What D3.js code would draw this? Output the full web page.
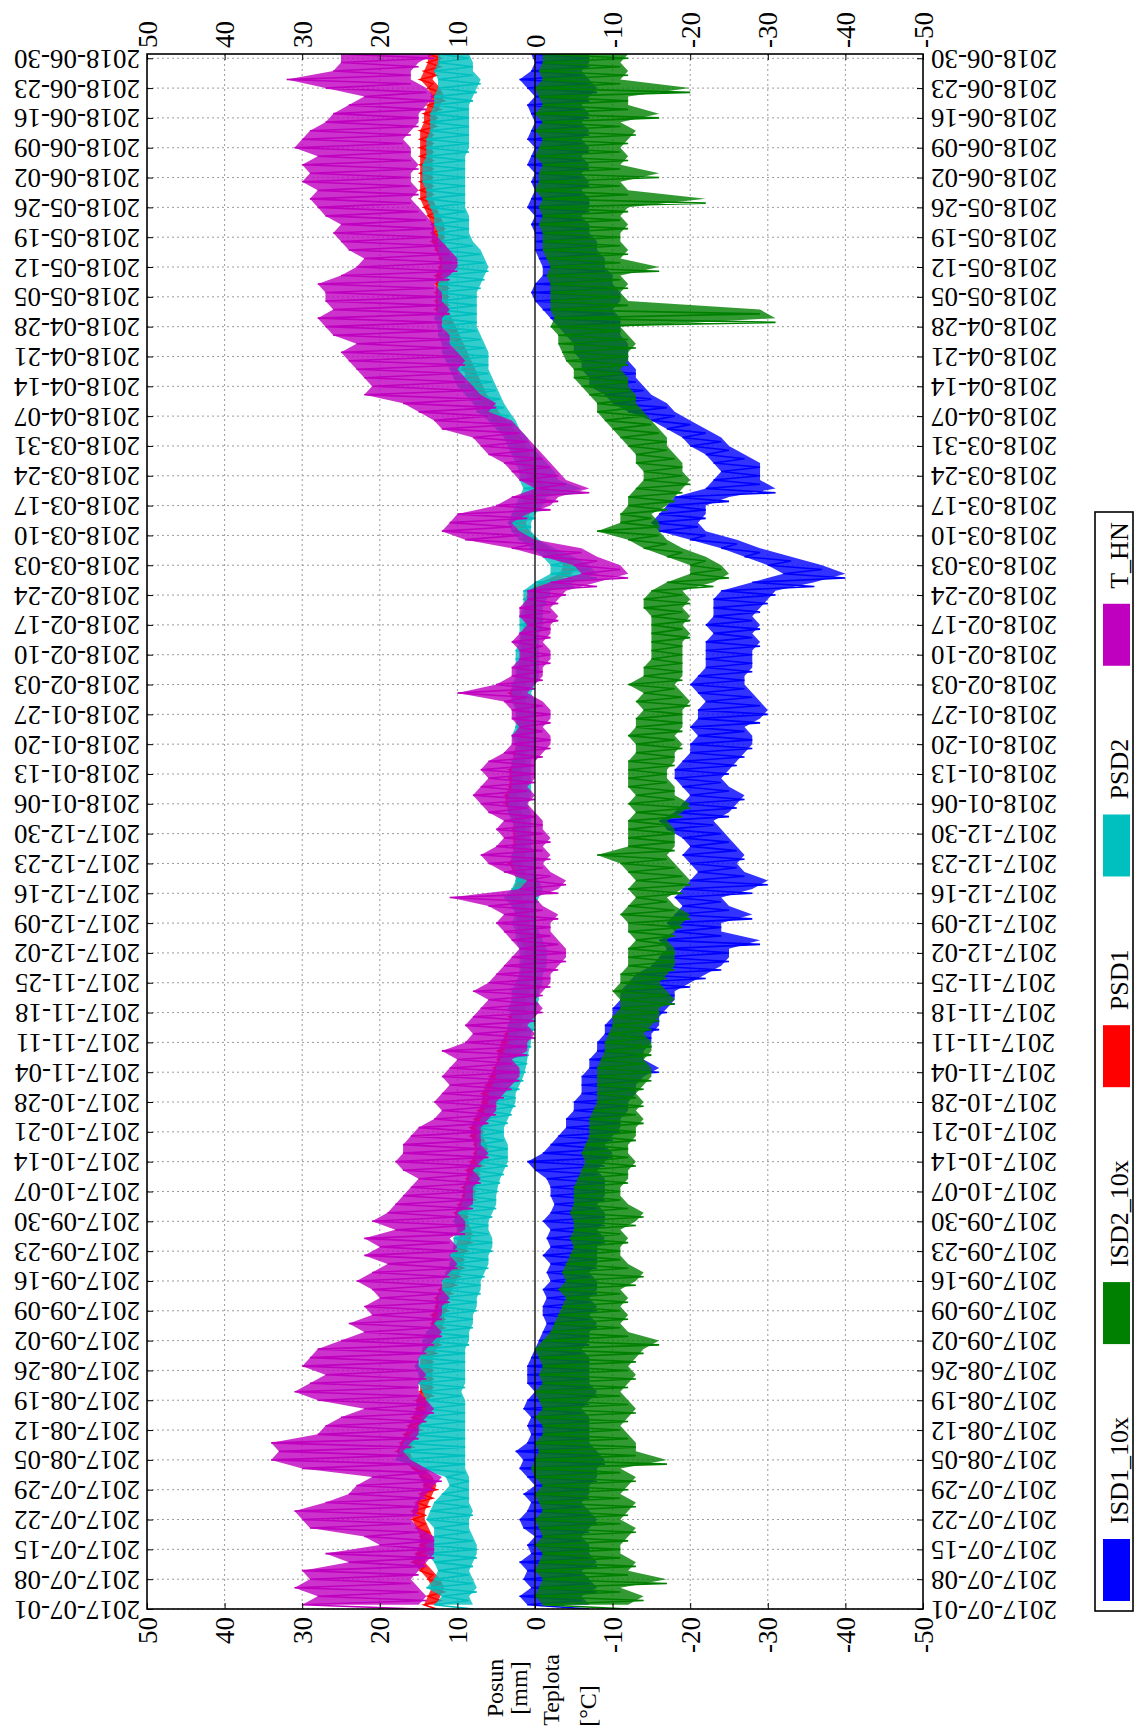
<!DOCTYPE html>
<html>
<head>
<meta charset="utf-8">
<script src="https://cdn.jsdelivr.net/npm/d3@7"></script>
<style>
  html, body { margin: 0; padding: 0; background: #fff; }
  svg { display: block; }
  text { font-family: "Liberation Serif", "Times New Roman", serif; fill: #000; }
</style>
</head>
<body>
<svg id="chart" width="1134" height="1729"></svg>
<script>
// ---- data -------------------------------------------------------------
// Two-day buckets starting 2017-07-01: for every bucket the lower and the
// upper reading of each record (displacements x10 / mm, temperature in °C).
const startDate = "2017-07-01";
const endDate = "2018-07-01";
const valueTicks = [50, 40, 30, 20, 10, 0, -10, -20, -30, -40, -50];
const seriesNames = ["ISD1_10x", "ISD2_10x", "PSD1", "PSD2", "T_HN"];
const seriesColors = ["#0000ff", "#008000", "#ff0000", "#00bfbf", "#bf00bf"];
const titleLines = ["Posun", "[mm]", "Teplota", "[°C]"];

const isd1High = [
  1, 2, 0.5, 1.5, 1, 2, 0.5,   1, 0, 1.5, 2, 1, 0.5, 1.5,   0, 1, 2, 1.5, 2.5, 1, 0.5,
  1, 0.5, 1.5, 1, 0, 1, 1,   1, 0.5, 0, -0.5, -1, -1.5, -1,   -1, -1.5, -1, -2, -1.5, -2, -1,
  -2, -1.5, -2, -1, -2, -2.5, -2,   -2, -1.5, 0, 1, -1, -2, -3,   -4, -4, -5, -5, -6, -6, -6,
  -7, -7, -8, -8, -9, -9, -10,   -10, -11, -11, -12, -13, -15, -16,   -17, -16, -18, -17, -18, -19, -18,
  -19, -20, -21, -20, -19, -20, -19,   -17, -16, -18, -19, -20, -19, -18,   -18, -19, -20, -20, -21, -20, -21,
  -21, -22, -21, -20, -21, -22, -22,   -22, -22, -23, -22, -23, -23, -23,   -24, -28, -32, -30, -27, -24, -20,
  -16, -15, -16, -17, -18, -22, -23,   -24, -23, -22, -20, -19, -17, -15,   -12, -10, -9, -7, -7, -6, -6,
  -5, -5, -4, -3, -2, -1, 0,   0.5, 0, -1, -1, -0.5, 0, 0,   0, 0.5, 0, 1, 0.5, 0, 0.5,
  0, 1, 0.5, 0, 1, 0.5, 0,   0.5, 1, 0, 1, 2, 0.5, 0,   0.5
];
const isd1Low = [
  -7, -6, -8, -7, -6, -8, -7,   -7, -6, -7, -8, -7, -6, -7,   -7, -8, -8, -9, -8, -7, -7,
  -7, -7, -6, -7, -8, -7, -7,   -7, -7, -6, -7, -7, -8, -7,   -8, -7, -8, -8, -7, -8, -8,
  -8, -9, -8, -9, -9, -8, -9,   -9, -9, -8, -9, -10, -9, -10,   -11, -11, -12, -12, -13, -13, -14,
  -16, -14, -14, -15, -15, -16, -16,   -17, -18, -18, -20, -22, -24, -25,   -25, -29, -24, -24, -28, -25, -24,
  -28, -30, -27, -26, -27, -26, -25,   -24, -23, -25, -26, -27, -25, -24,   -25, -26, -27, -28, -28, -27, -29,
  -30, -29, -28, -27, -27, -28, -28,   -28, -29, -28, -29, -28, -29, -30,   -31, -36, -40, -37, -33, -29, -26,
  -22, -21, -22, -22, -25, -31, -29,   -29, -29, -27, -25, -24, -22, -20,   -18, -17, -15, -14, -13, -13, -12,
  -12, -12, -11, -11, -11, -10, -11,   -11, -10, -10, -9, -9, -8, -8,   -7, -7, -6, -7, -7, -6, -7,
  -6, -7, -6, -7, -6, -7, -6,   -7, -6, -7, -8, -7, -6, -7,   -7
];

const isd2High = [
  -1, 0, -0.5, -1, 0, -0.5, -1,   0, -1, -0.5, 0, -1, -0.5, 0,   -1, 0, 0.5, 0, -0.5, 0, -1,
  -1, 0, -1, -0.5, 0, -1, -0.5,   -1, -0.5, 0, -1, -2, -2.5, -3,   -3.5, -4, -3, -4, -3.5, -4, -4.5,
  -5, -4.5, -5, -5, -4.5, -5, -5,   -5, -5.5, -6, -6.5, -6, -6.5, -7,   -7, -7, -7.5, -8, -8, -8, -8,
  -8, -8.5, -9, -9, -9.5, -10, -10,   -11, -11, -10, -11, -11, -12, -12,   -12, -13, -12, -12, -11, -12, -13,
  -12, -13, -12, -11, -8, -12, -12,   -12, -12, -13, -12, -13, -12, -12,   -12, -12, -13, -13, -12, -13, -13,
  -14, -13, -14, -12, -14, -14, -15,   -15, -15, -15, -15, -15, -14, -14,   -15, -17, -20, -20, -17, -14, -12,
  -8, -11, -11, -12, -12, -13, -14,   -14, -13, -13, -12, -11, -10, -9,   -8, -8, -7, -6, -5, -5, -4,
  -3.5, -3, -3, -2, -2.5, -2, -2,   -2, -2, -1.5, -2, -1.5, -1, -1,   -1, -0.5, -1, -0.5, -1, 0, -0.5,
  -0.5, -1, 0, -0.5, -1, 0, -1,   0, -1, -0.5, 0, -1, -0.5, -1,   -1
];
const isd2Low = [
  -12, -14, -11, -17, -12, -13, -11,   -11, -12, -13, -11, -12, -13, -11,   -12, -13, -11, -17, -13, -13, -12,
  -11, -12, -13, -12, -11, -12, -13,   -12, -13, -14, -16, -12, -11, -12,   -11, -12, -11, -13, -14, -12, -11,
  -11, -12, -11, -13, -14, -12, -11,   -11, -12, -12, -13, -12, -12, -13,   -13, -14, -13, -14, -13, -14, -15,
  -15, -14, -15, -15, -14, -15, -16,   -16, -18, -17, -16, -17, -18, -18,   -18, -17, -18, -19, -20, -18, -17,
  -19, -20, -19, -18, -17, -18, -18,   -18, -17, -19, -20, -18, -18, -17,   -17, -18, -18, -19, -18, -19, -19,
  -19, -20, -19, -18, -19, -19, -19,   -19, -19, -20, -19, -20, -19, -20,   -19, -23, -25, -24, -22, -19, -17,
  -16, -16, -15, -17, -18, -19, -20,   -19, -19, -18, -17, -17, -16, -15,   -14, -13, -13, -12, -12, -11, -12,
  -12, -13, -12, -11, -31, -29, -12,   -11, -12, -11, -16, -11, -12, -11,   -11, -12, -11, -12, -22, -12, -11,
  -16, -11, -12, -11, -12, -13, -11,   -16, -12, -12, -20, -11, -12, -11,   -12
];

const psd1High = [
  14.3, 13.8, 13.3, 13.8, 14.8, 15.8, 15.3,   14.8, 14.8, 15.3, 15.8, 15.8, 15.3, 14.8,   14.3, 14.8, 15.8, 17.3, 17.8, 17.3, 16.8,
  16.3, 15.8, 15.3, 15.3, 14.8, 14.8, 14.8,   14.8, 14.8, 14.3, 13.8, 13.8, 13.3, 13.3,   12.8, 12.8, 12.3, 11.8, 11.3, 10.8, 10.8,
  10.3, 9.8, 9.8, 10.3, 10.3, 9.8, 9.3,   9.3, 8.8, 8.8, 8.3, 7.8, 7.8, 8.3,   8.3, 7.8, 7.3, 6.8, 6.8, 6.3, 5.8,
  5.3, 4.8, 4.8, 4.3, 3.8, 3.3, 3.3,   2.8, 2.8, 2.3, 2.3, 1.8, 1.8, 1.3,   1.3, 1.8, 2.3, 2.3, 2.3, 2.8, 3.3,
  2.8, 2.3, 2.8, 3.3, 2.8, 2.8, 2.8,   2.8, 2.8, 3.3, 3.8, 3.8, 3.3, 3.3,   3.3, 2.8, 2.8, 2.3, 2.3, 2.3, 2.3,
  2.3, 2.8, 3.3, 2.8, 2.3, 2.3, 1.8,   1.8, 1.8, 1.8, 1.3, 1.3, 1.3, 1.3,   0.8, -0.7, -3.2, -3.7, -2.2, -0.2, 1.3,
  2.3, 2.8, 2.3, 1.8, 1.3, -0.2, 0.8,   1.3, 1.8, 2.3, 2.8, 3.3, 4.3, 5.3,   6.3, 6.8, 7.8, 8.3, 8.8, 9.3, 9.8,
  10.3, 10.8, 11.3, 11.8, 12.3, 12.8, 12.8,   12.8, 12.8, 12.8, 12.3, 12.3, 12.8, 13.3,   13.3, 13.3, 13.8, 14.3, 14.8, 14.8, 14.8,
  14.8, 14.8, 14.8, 14.8, 14.8, 14.8, 14.3,   14.3, 13.8, 13.3, 13.8, 14.8, 14.3, 13.8,   13.8
];
const psd1Low = [
  12.7, 12.2, 11.7, 12.2, 13.2, 14.2, 13.7,   13.2, 13.2, 13.7, 14.2, 14.2, 13.7, 13.2,   12.7, 13.2, 14.2, 15.7, 16.2, 15.7, 15.2,
  14.7, 14.2, 13.7, 13.7, 13.2, 13.2, 13.2,   13.2, 13.2, 12.7, 12.2, 12.2, 11.7, 11.7,   11.2, 11.2, 10.7, 10.2, 9.7, 9.2, 9.2,
  8.7, 8.2, 8.2, 8.7, 8.7, 8.2, 7.7,   7.7, 7.2, 7.2, 6.7, 6.2, 6.2, 6.7,   6.7, 6.2, 5.7, 5.2, 5.2, 4.7, 4.2,
  3.7, 3.2, 3.2, 2.7, 2.2, 1.7, 1.7,   1.2, 1.2, 0.7, 0.7, 0.2, 0.2, -0.3,   -0.3, 0.2, 0.7, 0.7, 0.7, 1.2, 1.7,
  1.2, 0.7, 1.2, 1.7, 1.2, 1.2, 1.2,   1.2, 1.2, 1.7, 2.2, 2.2, 1.7, 1.7,   1.7, 1.2, 1.2, 0.7, 0.7, 0.7, 0.7,
  0.7, 1.2, 1.7, 1.2, 0.7, 0.7, 0.2,   0.2, 0.2, 0.2, -0.3, -0.3, -0.3, -0.3,   -0.8, -2.3, -4.8, -5.3, -3.8, -1.8, -0.3,
  0.7, 1.2, 0.7, 0.2, -0.3, -1.8, -0.8,   -0.3, 0.2, 0.7, 1.2, 1.7, 2.7, 3.7,   4.7, 5.2, 6.2, 6.7, 7.2, 7.7, 8.2,
  8.7, 9.2, 9.7, 10.2, 10.7, 11.2, 11.2,   11.2, 11.2, 11.2, 10.7, 10.7, 11.2, 11.7,   11.7, 11.7, 12.2, 12.7, 13.2, 13.2, 13.2,
  13.2, 13.2, 13.2, 13.2, 13.2, 13.2, 12.7,   12.7, 12.2, 11.7, 12.2, 13.2, 12.7, 12.2,   12.2
];

const psd2High = [
  13, 12, 14, 13, 12.5, 13, 14,   14, 13, 13, 14, 13.5, 13, 12,   11, 11.5, 15, 18, 17.5, 17, 16,
  15, 14.5, 14, 14, 14.5, 15, 15,   15.5, 15, 14.5, 14.5, 14, 13, 12.5,   12.5, 12.5, 12, 12, 11.5, 11, 11,
  10.5, 10.5, 10, 10.5, 10, 9.5, 9,   9, 8.5, 8, 7.5, 7.5, 7.5, 7.5,   7.5, 7, 6.5, 6, 6, 5.5, 5,
  5, 4.5, 4, 3.5, 3.5, 3.5, 3,   3.5, 3, 3, 2.5, 2, 2, 2,   2, 2.5, 2.5, 3, 2.5, 3, 4,
  3, 2.5, 2.5, 3, 3, 2.5, 2.5,   2.5, 3, 3.5, 3.5, 3.5, 3, 3,   3, 3, 2.5, 2.5, 3, 2.5, 2.5,
  2.5, 3, 3, 3, 2.5, 2.5, 2.5,   2.5, 2, 2, 2, 2, 1.5, 1.5,   1.5, 0, -2, -2, -1, 0.5, 2,
  3, 3.5, 3, 2.5, 2, 1.5, 2,   2, 2.5, 3, 3.5, 4, 5, 6,   7.5, 8, 9, 10, 10.5, 11, 11.5,
  12, 12, 12.5, 12.5, 13, 12.5, 12.5,   12.5, 12.5, 12, 12, 12, 12.5, 12.5,   12.5, 13, 13, 13.5, 14, 14, 14.5,
  14.5, 14.5, 14, 14, 14, 13.5, 13.5,   13.5, 13, 13, 12.5, 12.5, 13, 12.5,   12.5
];
const psd2Low = [
  8, 8.5, 7.5, 8, 8.5, 8, 7.5,   7.5, 8, 8.5, 8.5, 8, 8.5, 8.5,   8.5, 8.5, 9, 9, 9, 9, 9,
  9, 9, 9, 9, 9.5, 9, 9,   9, 9, 9, 8.5, 8.5, 8, 8,   7.5, 7.5, 7, 7, 6.5, 6, 6,
  5.5, 5.5, 6, 6, 5.5, 5, 5,   4.8, 4.5, 4, 3.5, 3.5, 3.5, 4,   4, 3.5, 3, 2.5, 2.5, 2, 1.5,
  1.2, 1, 0.8, 0.5, 0.5, 0, 0,   -0.2, -0.5, -0.5, -1, -1, -1.5, -1.5,   -1.5, -1, -0.5, 0, 0, 0, -0.5,
  -1, -0.5, 0, 0, 0, 0.5, 0.5,   0.5, 0.5, 0.5, 1, 0.5, 0.5, 0.5,   0.5, 0.5, 0, 0, 0, 0, 0,
  0, 0, 0.5, 0, -0.5, -0.5, -0.5,   -0.5, -0.5, -0.5, -1, -1, -1, -1.5,   -2, -5, -8, -7, -5, -2.5, -0.5,
  0.5, 0.5, 0, -1, -1.5, -6, -3,   -2.5, -1.5, -0.5, 0.5, 1, 2, 2.5,   3.3, 4, 4.5, 5, 5.5, 6, 6,
  6, 6.5, 7, 7.5, 7.5, 7.5, 7.5,   7.5, 7, 6.5, 6, 6.5, 7, 8,   8.5, 8.5, 8.5, 9, 9, 9, 9,
  9, 9, 9, 8.5, 8.5, 8.5, 8.5,   8.5, 8.5, 8, 7.5, 7, 8, 8,   8.5
];

const thnHigh = [
  30, 28, 31, 29, 30, 24, 27,   20, 22, 29, 30, 31, 27, 24,   23, 21, 30, 34, 33, 34, 28,
  27, 25, 22, 28, 31, 29, 27,   30, 29, 28, 25, 22, 24, 21,   22, 20, 21, 23, 21, 19, 22,
  20, 22, 18, 21, 19, 18, 17,   16, 15, 17, 18, 17, 17, 16,   15, 13, 12, 13, 12, 11, 12,
  11, 10, 12, 9, 8, 9, 8,   7, 6, 8, 6, 5, 4, 3,   2, 3, 4, 5, 4, 6, 11,
  2, 1, 4, 6, 7, 5, 4,   5, 4, 6, 7, 8, 7, 6,   7, 6, 4, 3, 3, 2, 3,
  3, 4, 10, 5, 3, 3, 2,   2, 3, 2, 1, 2, 2, 1,   1, -2, -6, -5, -1, 3, 9,
  12, 11, 10, 5, 3, 0, 2,   3, 4, 6, 7, 8, 12, 13,   15, 17, 22, 21, 22, 23, 24,
  25, 23, 26, 27, 28, 26, 27,   27, 28, 25, 23, 22, 24, 25,   26, 25, 27, 28, 29, 28, 30,
  29, 30, 28, 31, 30, 29, 27,   26, 24, 22, 27, 32, 26, 25,   25
];
const thnLow = [
  15, 14, 15, 16, 15, 14, 13,   13, 13, 15, 16, 15, 15, 14,   13, 12, 14, 16, 17, 16, 15,
  15, 14, 13, 14, 15, 15, 14,   15, 15, 14, 13, 12, 13, 12,   12, 11, 12, 12, 11, 10, 11,
  10, 11, 9, 9, 10, 8, 8,   8, 7, 8, 7, 6, 7, 7,   7, 6, 5, 5, 4, 3, 2,
  2, 3, 1, 1, 0, 1, 0,   -1, 0, -1, -2, -2, -3, -4,   -4, -3, -2, -2, -3, -1, 0,
  -3, -4, -2, -1, -2, -1, -2,   -1, -1, 0, 1, 0, 1, 0,   0, 0, -1, -2, -2, -1, -2,
  -2, -1, 1, 0, -1, -1, -2,   -2, -1, -2, -2, -3, -2, -3,   -4, -8, -12, -11, -8, -6, 0,
  2, 3, 1, -2, -3, -7, -4,   -3, -2, -1, 0, 1, 2, 3,   6, 5, 7, 8, 9, 10, 9,
  10, 11, 11, 12, 12, 11, 12,   12, 13, 11, 10, 10, 11, 12,   13, 13, 14, 15, 16, 15, 16,
  16, 15, 16, 16, 17, 16, 15,   15, 14, 13, 14, 16, 16, 15,   13
];

const seriesLow = [isd1Low, isd2Low, psd1Low, psd2Low, thnLow];
const seriesHigh = [isd1High, isd2High, psd1High, psd2High, thnHigh];

// ---- layout -----------------------------------------------------------
const svg = d3.select("#chart");
const plot = { left: 147, right: 923, top: 54, bottom: 1609 };
const parse = d3.timeParse("%Y-%m-%d");
const t0 = parse(startDate), t1 = parse(endDate);

// dates run upwards, values run from +50 (left) to -50 (right)
const y = d3.scaleTime().domain([t0, t1]).range([plot.bottom, plot.top]);
const x = d3.scaleLinear().domain([50, -50]).range([plot.left, plot.right]);

const weekTicks = d3.timeSaturday.range(t0, t1);
const fmtDate = d3.timeFormat("%Y-%m-%d");
const fmtVal = d => String(d);
const serif = '"Liberation Serif", "Times New Roman", serif';

svg.append("defs").append("clipPath").attr("id", "plotClip")
  .append("rect")
  .attr("x", plot.left).attr("y", plot.top)
  .attr("width", plot.right - plot.left).attr("height", plot.bottom - plot.top);

// grid
const grid = svg.append("g");
grid.selectAll("line.h").data(weekTicks).join("line")
  .attr("x1", plot.left).attr("x2", plot.right)
  .attr("y1", d => y(d)).attr("y2", d => y(d))
  .attr("stroke", "#9a9a9a").attr("stroke-width", 1).attr("stroke-dasharray", "2,3");
grid.selectAll("line.v").data(valueTicks.filter(v => v !== 0 && Math.abs(v) !== 50)).join("line")
  .attr("y1", plot.top).attr("y2", plot.bottom)
  .attr("x1", d => x(d)).attr("x2", d => x(d))
  .attr("stroke", "#9a9a9a").attr("stroke-width", 1).attr("stroke-dasharray", "2,3");

// series: a band for each bucket's spread, then the trace itself
const line = d3.line().x(d => x(d.v)).y(d => y(d.t));
const band = d3.area().y(d => y(d.t)).x0(d => x(d.lo)).x1(d => x(d.hi));
const lines = svg.append("g").attr("clip-path", "url(#plotClip)");
seriesNames.forEach((name, s) => {
  const pts = [];
  const spread = [];
  seriesLow[s].forEach((lo, i) => {
    const hi = seriesHigh[s][i];
    pts.push({ t: d3.timeDay.offset(t0, 2 * i), v: lo });
    pts.push({ t: d3.timeDay.offset(t0, 2 * i + 1), v: hi });
    spread.push({ t: d3.timeDay.offset(t0, 2 * i + 1), lo: lo, hi: hi });
  });
  const g = lines.append("g");
  g.append("path").datum(spread)
    .attr("d", band)
    .attr("fill", seriesColors[s])
    .attr("fill-opacity", 0.8);
  g.append("path").datum(pts)
    .attr("d", line)
    .attr("fill", "none")
    .attr("stroke", seriesColors[s])
    .attr("stroke-width", 1.6)
    .attr("stroke-linejoin", "miter");
});

// zero line
svg.append("line")
  .attr("x1", x(0)).attr("x2", x(0)).attr("y1", plot.top).attr("y2", plot.bottom)
  .attr("stroke", "#000").attr("stroke-width", 1.3);

// frame
svg.append("rect")
  .attr("x", plot.left).attr("y", plot.top)
  .attr("width", plot.right - plot.left).attr("height", plot.bottom - plot.top)
  .attr("fill", "none").attr("stroke", "#000").attr("stroke-width", 1.6);

// date axes (labels turned upside down)
function styleAxis(g) {
  g.attr("font-family", serif);
  g.select(".domain").remove();
  g.selectAll(".tick line").attr("stroke", "#000");
}
svg.append("g").attr("transform", `translate(${plot.left},0)`)
  .call(d3.axisLeft(y).tickValues(weekTicks).tickFormat(fmtDate).tickSizeInner(-6).tickSizeOuter(0))
  .call(styleAxis)
  .call(g => g.selectAll(".tick text")
    .attr("x", null).attr("dy", null)
    .attr("transform", "translate(-7,0) rotate(180)")
    .attr("text-anchor", "start").attr("dominant-baseline", "central")
    .style("font-size", "27px").style("font-family", serif));
svg.append("g").attr("transform", `translate(${plot.right},0)`)
  .call(d3.axisRight(y).tickValues(weekTicks).tickFormat(fmtDate).tickSizeInner(-6).tickSizeOuter(0))
  .call(styleAxis)
  .call(g => g.selectAll(".tick text")
    .attr("x", null).attr("dy", null)
    .attr("transform", "translate(8,0) rotate(180)")
    .attr("text-anchor", "end").attr("dominant-baseline", "central")
    .style("font-size", "27px").style("font-family", serif));

// value axes (labels read upwards)
svg.append("g").attr("transform", `translate(0,${plot.top})`)
  .call(d3.axisTop(x).tickValues(valueTicks).tickFormat(fmtVal).tickSizeInner(-6).tickSizeOuter(0))
  .call(styleAxis)
  .call(g => g.selectAll(".tick text")
    .attr("y", null).attr("dy", null)
    .attr("transform", "translate(0,-6) rotate(-90)")
    .attr("text-anchor", "start").attr("dominant-baseline", "central")
    .style("font-size", "27px").style("font-family", serif));
svg.append("g").attr("transform", `translate(0,${plot.bottom})`)
  .call(d3.axisBottom(x).tickValues(valueTicks).tickFormat(fmtVal).tickSizeInner(-6).tickSizeOuter(0))
  .call(styleAxis)
  .call(g => g.selectAll(".tick text")
    .attr("y", null).attr("dy", null)
    .attr("transform", "translate(0,8) rotate(-90)")
    .attr("text-anchor", "end").attr("dominant-baseline", "central")
    .style("font-size", "27px").style("font-family", serif));

// axis title
const titlePos = [[495, 1688], [519, 1688], [551, 1690], [588, 1706]];
svg.append("g").selectAll("text").data(titleLines).join("text")
  .attr("transform", (d, i) => `translate(${titlePos[i][0]},${titlePos[i][1]}) rotate(-90)`)
  .attr("text-anchor", "middle").attr("dominant-baseline", "central")
  .style("font-size", "24px").style("font-family", serif)
  .text(d => d);

// legend (reads upwards, first entry at the bottom)
const legend = svg.append("g");
const box = { x: 1095, y: 512, w: 38, h: 1099 };
legend.append("rect")
  .attr("x", box.x).attr("y", box.y).attr("width", box.w).attr("height", box.h)
  .attr("fill", "#fff").attr("stroke", "#000").attr("stroke-width", 1.6);
let cursor = box.y + box.h - 10;
seriesNames.forEach((name, s) => {
  legend.append("rect")
    .attr("x", box.x + 8).attr("y", cursor - 62)
    .attr("width", 27).attr("height", 62)
    .attr("fill", seriesColors[s]);
  const tx = legend.append("text")
    .attr("transform", `translate(${box.x + 24},${cursor - 77}) rotate(-90)`)
    .attr("text-anchor", "start").attr("dominant-baseline", "central")
    .style("font-size", "26px").style("font-family", serif)
    .text(name);
  cursor = cursor - 77 - tx.node().getComputedTextLength() - 73;
});
</script>
</body>
</html>
